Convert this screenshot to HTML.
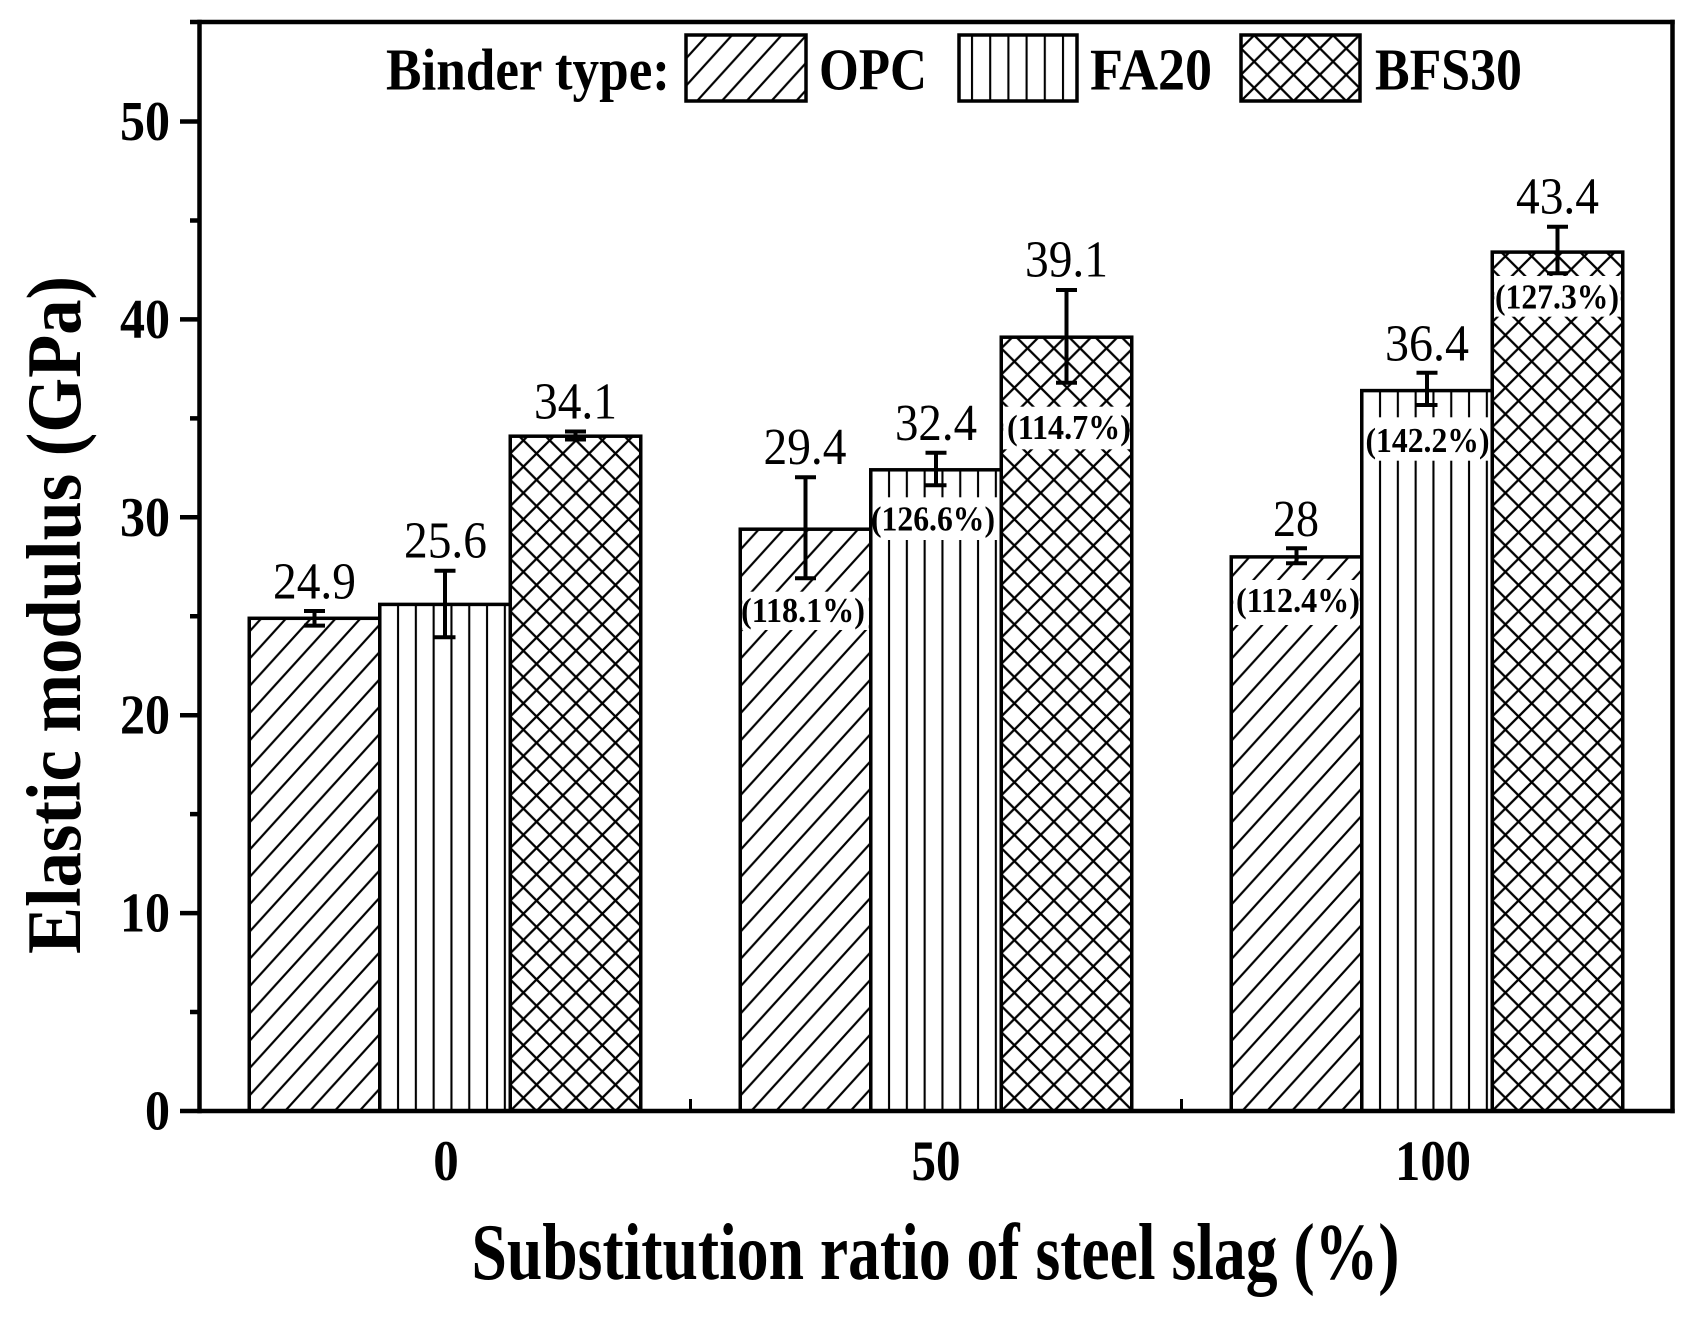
<!DOCTYPE html>
<html><head><meta charset="utf-8"><style>
html,body{margin:0;padding:0;background:#fff;}
svg{display:block;}
text{font-family:"Liberation Serif","Times New Roman",serif;fill:#000;}
.b{font-weight:bold;}
</style></head><body>
<svg width="1700" height="1319" viewBox="0 0 1700 1319" xmlns="http://www.w3.org/2000/svg">
<defs>
<pattern id="o0" patternUnits="userSpaceOnUse" x="260.25" y="1111" width="24.8" height="27.3"><path d="M-24.8 27.3L24.8 -27.3M-24.8 54.6L49.6 -27.3M0 54.6L49.6 0" stroke="#000" stroke-width="2.2" fill="none"/></pattern>
<pattern id="o1" patternUnits="userSpaceOnUse" x="751.25" y="1111" width="24.8" height="27.3"><path d="M-24.8 27.3L24.8 -27.3M-24.8 54.6L49.6 -27.3M0 54.6L49.6 0" stroke="#000" stroke-width="2.2" fill="none"/></pattern>
<pattern id="o2" patternUnits="userSpaceOnUse" x="1242.25" y="1111" width="24.8" height="27.3"><path d="M-24.8 27.3L24.8 -27.3M-24.8 54.6L49.6 -27.3M0 54.6L49.6 0" stroke="#000" stroke-width="2.2" fill="none"/></pattern>
<pattern id="oL" patternUnits="userSpaceOnUse" x="697" y="101" width="24.8" height="27.3"><path d="M-24.8 27.3L24.8 -27.3M-24.8 54.6L49.6 -27.3M0 54.6L49.6 0" stroke="#000" stroke-width="2.2" fill="none"/></pattern>
<pattern id="f0" patternUnits="userSpaceOnUse" x="389.15" y="0" width="17.8" height="10"><path d="M8.9 -1V11" stroke="#000" stroke-width="2.1"/></pattern>
<pattern id="f1" patternUnits="userSpaceOnUse" x="880.15" y="0" width="17.8" height="10"><path d="M8.9 -1V11" stroke="#000" stroke-width="2.1"/></pattern>
<pattern id="f2" patternUnits="userSpaceOnUse" x="1371.15" y="0" width="17.8" height="10"><path d="M8.9 -1V11" stroke="#000" stroke-width="2.1"/></pattern>
<pattern id="fL" patternUnits="userSpaceOnUse" x="963.1" y="0" width="18.2" height="10"><path d="M8.9 -1V11" stroke="#000" stroke-width="2.1"/></pattern>
<pattern id="x0" patternUnits="userSpaceOnUse" x="510.25" y="1111" width="26.3" height="26.3"><path d="M-26.3 26.3L26.3 -26.3M-26.3 52.6L52.6 -26.3M0 52.6L52.6 0M-26.3 -26.3L52.6 52.6M0 -26.3L52.6 26.3M-26.3 0L26.3 52.6" stroke="#000" stroke-width="2.3" fill="none"/></pattern>
<pattern id="x1" patternUnits="userSpaceOnUse" x="1001.25" y="1111" width="26.3" height="26.3"><path d="M-26.3 26.3L26.3 -26.3M-26.3 52.6L52.6 -26.3M0 52.6L52.6 0M-26.3 -26.3L52.6 52.6M0 -26.3L52.6 26.3M-26.3 0L26.3 52.6" stroke="#000" stroke-width="2.3" fill="none"/></pattern>
<pattern id="x2" patternUnits="userSpaceOnUse" x="1492.25" y="1111" width="26.3" height="26.3"><path d="M-26.3 26.3L26.3 -26.3M-26.3 52.6L52.6 -26.3M0 52.6L52.6 0M-26.3 -26.3L52.6 52.6M0 -26.3L52.6 26.3M-26.3 0L26.3 52.6" stroke="#000" stroke-width="2.3" fill="none"/></pattern>
<pattern id="xL" patternUnits="userSpaceOnUse" x="1241" y="101" width="26.3" height="26.3"><path d="M-26.3 26.3L26.3 -26.3M-26.3 52.6L52.6 -26.3M0 52.6L52.6 0M-26.3 -26.3L52.6 52.6M0 -26.3L52.6 26.3M-26.3 0L26.3 52.6" stroke="#000" stroke-width="2.3" fill="none"/></pattern>
</defs>
<rect width="1700" height="1319" fill="#fff"/>

<g stroke="#000" stroke-width="3.5">
<rect x="249.25" y="618.3" width="130.5" height="492.7" fill="url(#o0)"/>
<rect x="379.75" y="604.4" width="130.5" height="506.6" fill="url(#f0)"/>
<rect x="510.25" y="436.2" width="130.5" height="674.8" fill="url(#x0)"/>
<rect x="740.25" y="529.2" width="130.5" height="581.8" fill="url(#o1)"/>
<rect x="870.75" y="469.8" width="130.5" height="641.2" fill="url(#f1)"/>
<rect x="1001.25" y="337.2" width="130.5" height="773.8" fill="url(#x1)"/>
<rect x="1231.25" y="556.9" width="130.5" height="554.1" fill="url(#o2)"/>
<rect x="1361.75" y="390.6" width="130.5" height="720.4" fill="url(#f2)"/>
<rect x="1492.25" y="252.1" width="130.5" height="858.9" fill="url(#x2)"/>
</g>

<g fill="#fff">
<rect x="742.25" y="591.7" width="126.5" height="38.3"/>
<rect x="872.75" y="497.3" width="126.5" height="42.7"/>
<rect x="1003.25" y="406.7" width="126.5" height="42.6"/>
<rect x="1233.25" y="580" width="126.5" height="45"/>
<rect x="1363.75" y="417.3" width="126.5" height="43.4"/>
<rect x="1494.25" y="276" width="126.5" height="40.7"/>
</g>

<g class="b" font-size="35" text-anchor="middle">
<text x="803" y="622" textLength="124" lengthAdjust="spacingAndGlyphs">(118.1%)</text>
<text x="933" y="530.5" textLength="124" lengthAdjust="spacingAndGlyphs">(126.6%)</text>
<text x="1069" y="438.8" textLength="124" lengthAdjust="spacingAndGlyphs">(114.7%)</text>
<text x="1298" y="612.2" textLength="124" lengthAdjust="spacingAndGlyphs">(112.4%)</text>
<text x="1427.5" y="452.2" textLength="124" lengthAdjust="spacingAndGlyphs">(142.2%)</text>
<text x="1557" y="308.5" textLength="124" lengthAdjust="spacingAndGlyphs">(127.3%)</text>
</g>

<g stroke="#000" stroke-width="4" fill="none">
<path d="M314.5 611V625.6M304 611h21M304 625.6h21"/>
<path d="M445 570.7V637.3M434.5 570.7h21M434.5 637.3h21"/>
<path d="M575.5 431.5V439.5M565 431.5h21M565 439.5h21"/>
<path d="M805.5 477.3V578.3M795 477.3h21M795 578.3h21"/>
<path d="M936 452.7V485.3M925.5 452.7h21M925.5 485.3h21"/>
<path d="M1066.5 290V382.7M1056 290h21M1056 382.7h21"/>
<path d="M1296.5 548.3V563.3M1286 548.3h21M1286 563.3h21"/>
<path d="M1427 372.7V405M1416.5 372.7h21M1416.5 405h21"/>
<path d="M1557.5 226.7V273.3M1547 226.7h21M1547 273.3h21"/>
</g>

<g font-size="52" text-anchor="middle">
<text x="314.5" y="598.3" textLength="83" lengthAdjust="spacingAndGlyphs">24.9</text>
<text x="445.5" y="557.3" textLength="83" lengthAdjust="spacingAndGlyphs">25.6</text>
<text x="575.5" y="418.3" textLength="83" lengthAdjust="spacingAndGlyphs">34.1</text>
<text x="805" y="464" textLength="83" lengthAdjust="spacingAndGlyphs">29.4</text>
<text x="936" y="440" textLength="82" lengthAdjust="spacingAndGlyphs">32.4</text>
<text x="1066.5" y="276.7" textLength="83" lengthAdjust="spacingAndGlyphs">39.1</text>
<text x="1296" y="536" textLength="46" lengthAdjust="spacingAndGlyphs">28</text>
<text x="1427" y="360.5" textLength="84" lengthAdjust="spacingAndGlyphs">36.4</text>
<text x="1557.5" y="213.5" textLength="83" lengthAdjust="spacingAndGlyphs">43.4</text>
</g>

<g stroke="#000" stroke-width="4.5" fill="none" stroke-linecap="butt">
<path d="M199.5 19.8V1113.3"/>
<path d="M1672.5 19.8V1113.3"/>
<path d="M190 22H1674.7"/>
<path d="M180 1111H1674.7"/>
<path d="M180 913.1H199.5M180 715.2H199.5M180 517.3H199.5M180 319.4H199.5M180 121.5H199.5"/>
<path d="M190 1012.05H199.5M190 814.15H199.5M190 616.25H199.5M190 418.35H199.5M190 220.45H199.5"/>
</g>
<g stroke="#000" stroke-width="3" fill="none">
<path d="M690.5 1111V1099M1181.5 1111V1099"/>
</g>

<g class="b" font-size="56" text-anchor="end">
<text x="170" y="1129.5" textLength="25" lengthAdjust="spacingAndGlyphs">0</text>
<text x="170" y="931.6" textLength="50" lengthAdjust="spacingAndGlyphs">10</text>
<text x="170" y="733.7" textLength="50" lengthAdjust="spacingAndGlyphs">20</text>
<text x="170" y="535.8" textLength="50" lengthAdjust="spacingAndGlyphs">30</text>
<text x="170" y="337.9" textLength="50" lengthAdjust="spacingAndGlyphs">40</text>
<text x="170" y="140" textLength="50" lengthAdjust="spacingAndGlyphs">50</text>
</g>

<g class="b" font-size="57" text-anchor="middle">
<text x="446" y="1180" textLength="25.5" lengthAdjust="spacingAndGlyphs">0</text>
<text x="936" y="1180" textLength="49" lengthAdjust="spacingAndGlyphs">50</text>
<text x="1433" y="1180" textLength="76" lengthAdjust="spacingAndGlyphs">100</text>
</g>

<text class="b" x="935.5" y="1279" font-size="80" text-anchor="middle" textLength="928" lengthAdjust="spacingAndGlyphs">Substitution ratio of steel slag (%)</text>
<text class="b" transform="translate(80,615) rotate(-90)" x="0" y="0" font-size="77" text-anchor="middle" textLength="678" lengthAdjust="spacingAndGlyphs">Elastic modulus (GPa)</text>

<g stroke="#000" stroke-width="3.5">
<rect x="686" y="35" width="120" height="66" fill="url(#oL)"/>
<rect x="959" y="35" width="118" height="66" fill="url(#fL)"/>
<rect x="1241" y="35" width="119" height="66" fill="url(#xL)"/>
</g>
<g class="b" font-size="59">
<text x="386" y="89.5" textLength="284" lengthAdjust="spacingAndGlyphs">Binder type:</text>
<text x="819" y="89.5" textLength="108" lengthAdjust="spacingAndGlyphs">OPC</text>
<text x="1090" y="89.5" textLength="122" lengthAdjust="spacingAndGlyphs">FA20</text>
<text x="1375" y="89.5" textLength="147" lengthAdjust="spacingAndGlyphs">BFS30</text>
</g>
</svg>
</body></html>
